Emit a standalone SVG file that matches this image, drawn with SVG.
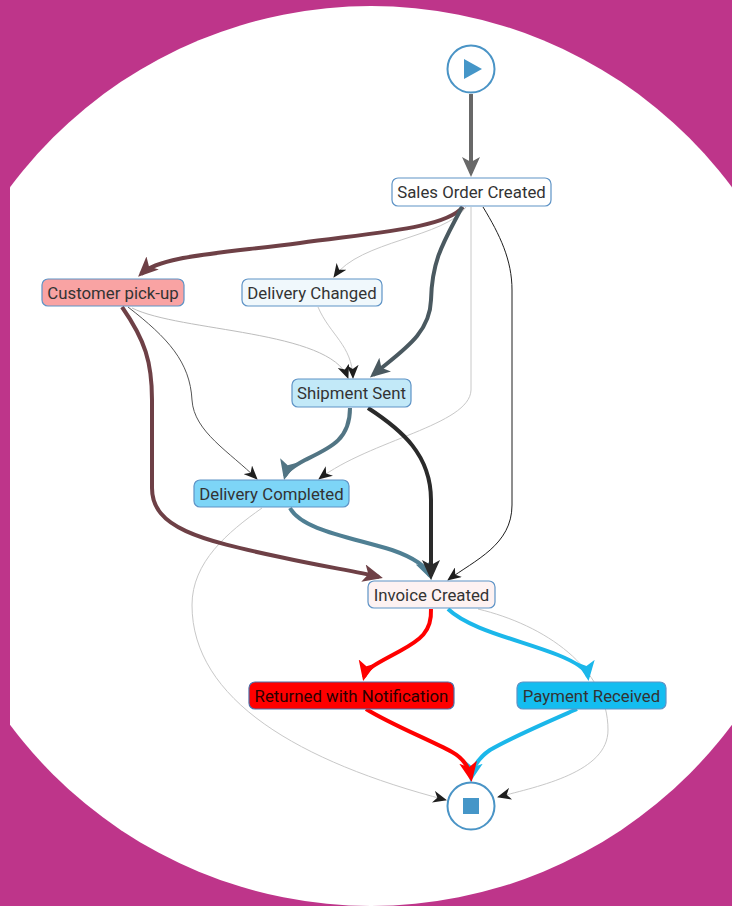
<svg xmlns="http://www.w3.org/2000/svg" width="732" height="906" viewBox="0 0 732 906">
<style>
.node rect{stroke:#5E93C6;stroke-width:1.2}
.node text{font-family:Roboto,"Liberation Sans",sans-serif;font-size:16.8px;fill:#333;text-anchor:middle}
.e{fill:none}
.thin{stroke-width:1}
.thick{stroke-width:4}
</style>
<defs>
<clipPath id="clip"><rect x="10" y="0" width="722" height="906"/></clipPath>
<marker id="mThin" markerUnits="userSpaceOnUse" viewBox="0 0 14 12" markerWidth="14" markerHeight="12" refX="13" refY="6" orient="auto"><path d="M0,0 L14,6 L0,12 L4,6 z" fill="#1E1E1E"/></marker>
<marker id="mGray" markerUnits="userSpaceOnUse" viewBox="0 0 20 18" markerWidth="20" markerHeight="18" refX="16" refY="9" orient="auto"><path d="M0,0 L20,9 L0,18 L5,9 z" fill="#686868"/></marker>
<marker id="mBrown" markerUnits="userSpaceOnUse" viewBox="0 0 20 18" markerWidth="20" markerHeight="18" refX="16" refY="9" orient="auto"><path d="M0,0 L20,9 L0,18 L5,9 z" fill="#6E4046"/></marker>
<marker id="mSlate" markerUnits="userSpaceOnUse" viewBox="0 0 20 18" markerWidth="20" markerHeight="18" refX="16" refY="9" orient="auto"><path d="M0,0 L20,9 L0,18 L5,9 z" fill="#4A5960"/></marker>
<marker id="mSlate2" markerUnits="userSpaceOnUse" viewBox="0 0 20 18" markerWidth="20" markerHeight="18" refX="16" refY="9" orient="auto"><path d="M0,0 L20,9 L0,18 L5,9 z" fill="#527584"/></marker>
<marker id="mSlate3" markerUnits="userSpaceOnUse" viewBox="0 0 20 18" markerWidth="20" markerHeight="18" refX="16" refY="9" orient="auto"><path d="M0,0 L20,9 L0,18 L5,9 z" fill="#4F7F93"/></marker>
<marker id="mBlack" markerUnits="userSpaceOnUse" viewBox="0 0 20 18" markerWidth="20" markerHeight="18" refX="16" refY="9" orient="auto"><path d="M0,0 L20,9 L0,18 L5,9 z" fill="#2A2A2A"/></marker>
<marker id="mRed" markerUnits="userSpaceOnUse" viewBox="0 0 20 18" markerWidth="20" markerHeight="18" refX="16" refY="9" orient="auto"><path d="M0,0 L20,9 L0,18 L5,9 z" fill="#FF0000"/></marker>
<marker id="mCyan" markerUnits="userSpaceOnUse" viewBox="0 0 20 18" markerWidth="20" markerHeight="18" refX="16" refY="9" orient="auto"><path d="M0,0 L20,9 L0,18 L5,9 z" fill="#1BB7EA"/></marker>
</defs>
<rect x="0" y="0" width="732" height="906" fill="#BE358A"/>
<circle cx="371" cy="456" r="450" fill="#FFFFFF" clip-path="url(#clip)"/>
<g id="connectors">
<path class="e thin" stroke="#C8C8C8" d="M466,207 C445,238 360,240 334,277" marker-end="url(#mThin)"/>
<path class="e thin" stroke="#C8C8C8" d="M471,207 L471,390 C470,425 370,440 319,479" marker-end="url(#mThin)"/>
<path class="e thin" stroke="#1E1E1E" d="M483,207 C500,235 512,260 512,290 L512,505 C512,545 475,560 448,580" marker-end="url(#mThin)"/>
<path class="e thin" stroke="#BDBDBD" d="M132,308 C180,332 330,330 348,378" marker-end="url(#mThin)"/>
<path class="e thin" stroke="#555555" d="M128,307 C168,338 190,362 192,400 C194,432 230,452 257,479" marker-end="url(#mThin)"/>
<path class="e thin" stroke="#C8C8C8" d="M318,307 C330,335 352,345 353,378" marker-end="url(#mThin)"/>
<path class="e thin" stroke="#C8C8C8" d="M262,508 C228,532 192,562 192,605 C192,700 300,762 446,800" marker-end="url(#mThin)"/>
<path class="e thin" stroke="#C8C8C8" d="M478,609 C545,625 608,668 608,730 C608,772 540,786 498,797" marker-end="url(#mThin)"/>
<path class="e thick" stroke="#686868" d="M471,94 L471,173" marker-end="url(#mGray)"/>
<path class="e thick" stroke="#6E4046" d="M463,207 C445,228 380,232 300,243 C215,254 160,256 141,274" marker-end="url(#mBrown)"/>
<path class="e thick" stroke="#4A5960" d="M462,207 C445,240 432,258 431,300 C430,335 400,352 373,375" marker-end="url(#mSlate)"/>
<path class="e thick" stroke="#6E4046" d="M122,307 C145,340 152,362 152,400 L152,488 C152,528 200,540 280,557 C325,567 355,571 379,577" marker-end="url(#mBrown)"/>
<path class="e thick" stroke="#527584" d="M350,408 C350,440 330,448 305,460 C292,467 286,472 285,476" marker-end="url(#mSlate2)"/>
<path class="e thick" stroke="#4F7F93" d="M290,508 C302,530 350,537 392,550 C415,558 426,566 430,576" marker-end="url(#mSlate3)"/>
<path class="e thick" stroke="#2A2A2A" d="M368,408 C402,430 431,455 431,500 L431,576" marker-end="url(#mBlack)"/>
<path class="e thick" stroke="#FF0000" d="M431,609 C432,632 420,640 400,651 C378,663 366,668 364,677" marker-end="url(#mRed)"/>
<path class="e thick" stroke="#1BB7EA" d="M448,609 C470,630 520,640 558,655 C578,663 587,670 588,677" marker-end="url(#mCyan)"/>
<path class="e thick" stroke="#1BB7EA" d="M577,709 C552,720 510,738 490,750 C478,758 473,767 471,778" marker-end="url(#mCyan)"/>
<path class="e thick" stroke="#FF0000" d="M366,709 C392,725 430,740 452,752 C463,758 469,767 471,778" marker-end="url(#mRed)"/>
</g>
<g id="start">
<circle cx="471" cy="69" r="23.5" fill="#FFFFFF" stroke="#4A94C6" stroke-width="2"/>
<polygon points="464,59 482,69 464,79" fill="#4596C8"/>
</g>
<g id="sales-order-created" class="node">
<rect x="392" y="178" width="159" height="28" rx="6" fill="#FFFFFF"/>
<text x="471.5" y="198">Sales Order Created</text>
</g>
<g id="customer-pick-up" class="node">
<rect x="42" y="279" width="142" height="27" rx="6" fill="#F9A3A3"/>
<text x="113" y="298.5">Customer pick-up</text>
</g>
<g id="delivery-changed" class="node">
<rect x="242" y="279" width="140" height="27" rx="6" fill="#F0F8FC"/>
<text x="312" y="298.5">Delivery Changed</text>
</g>
<g id="shipment-sent" class="node">
<rect x="292" y="379" width="119" height="28" rx="6" fill="#C2E9F8"/>
<text x="351.5" y="399">Shipment Sent</text>
</g>
<g id="delivery-completed" class="node">
<rect x="194" y="480" width="155" height="27" rx="6" fill="#7DD5F7"/>
<text x="271.5" y="499.5">Delivery Completed</text>
</g>
<g id="invoice-created" class="node">
<rect x="368" y="581" width="127" height="27" rx="6" fill="#FDF2F2"/>
<text x="431.5" y="600.5">Invoice Created</text>
</g>
<g id="returned-with-notification" class="node">
<rect x="249" y="682" width="205" height="27" rx="6" fill="#FF0000" style="stroke:#4F6EA8"/>
<text x="351.5" y="701.5" style="fill:#2A0000">Returned with Notification</text>
</g>
<g id="payment-received" class="node">
<rect x="517" y="682" width="149" height="27" rx="6" fill="#14BDF0"/>
<text x="591.5" y="701.5">Payment Received</text>
</g>
<g id="end">
<circle cx="471" cy="806" r="23.5" fill="#FFFFFF" stroke="#4A94C6" stroke-width="2"/>
<rect x="463" y="798" width="16" height="16" fill="#4596C8"/>
</g>
</svg>
